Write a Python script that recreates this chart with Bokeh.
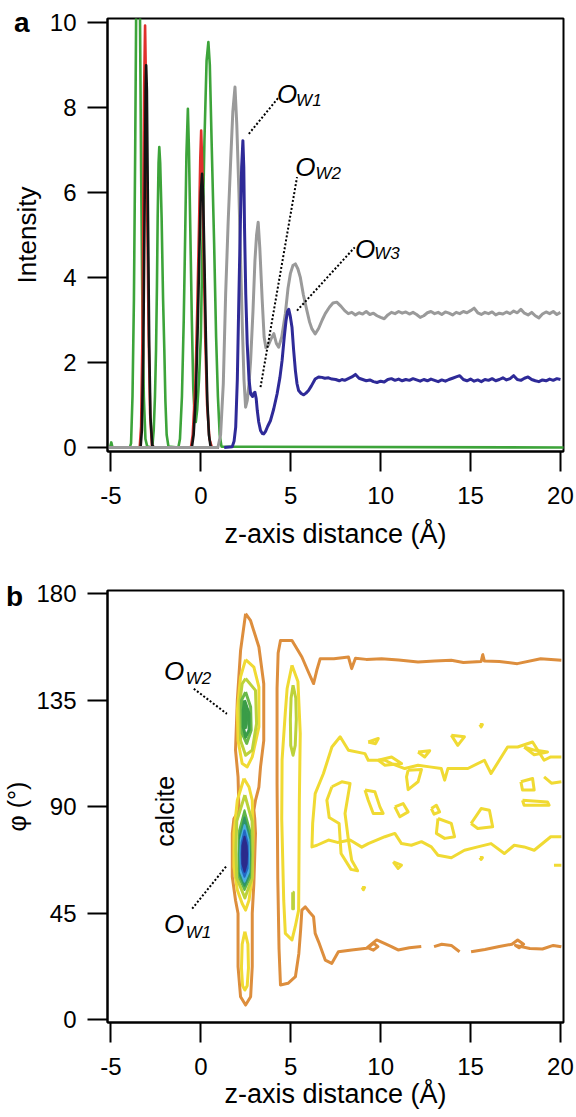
import numpy as np
from bokeh.plotting import figure
from bokeh.models import Range1d, FixedTicker, Div, GridBox
from bokeh.core.properties import value
from bokeh.embed import file_html
from bokeh.resources import INLINE

FONT = "Liberation Sans"

# ------------------------------------------------------------------ panel a data
x_ticks = [-5, 0, 5, 10, 15, 20]
ya_ticks = [0, 2, 4, 6, 8, 10]
yb_ticks = [0, 45, 90, 135, 180]

green_z = [-5.2, -5.05, -4.98, -4.91, -3.95, -3.88, -3.80, -3.72, -3.65, -3.60, -3.55, -3.49, -3.43,
           -3.38, -3.32, -3.25, -3.17, -3.08, -2.98, -2.70, -2.62, -2.55, -2.49, -2.44, -2.40, -2.35,
           -2.31, -2.26, -2.18, -2.10, -2.03, -1.97, -1.90, -1.80, -1.25, -1.16, -1.05, -0.95, -0.87,
           -0.80, -0.72, -0.66, -0.58, -0.50, -0.42, -0.34, -0.28, -0.20, -0.10, 0.0, 0.09, 0.20, 0.32,
           0.42, 0.50, 0.60, 0.74, 0.85, 0.95, 1.05, 1.15, 20.2]
green_I = [0, 0, 0.12, 0, 0, 0.1, 1.2, 3.5, 7.0, 10.0, 12.5, 13.5, 12.5,
           10.0, 6.5, 3.3, 1.2, 0.2, 0.02, 0, 0.4, 1.2, 2.3, 3.8, 5.4, 6.7,
           7.07, 6.7, 5.4, 3.5, 2.3, 1.1, 0.3, 0.02, 0, 0.2, 1.2, 3.0, 5.0,
           6.9, 7.97, 7.0, 5.0, 3.0, 1.4, 0.7, 0.6, 0.9, 1.6, 2.6, 4.8, 7.2, 9.1,
           9.54, 9.0, 7.2, 4.8, 2.6, 1.2, 0.3, 0.02, 0]

red_z = [-5.2, -3.40, -3.32, -3.25, -3.20, -3.15, -3.10, -3.05, -2.98, -2.90, -2.82, -2.72, -2.60,
         -0.55, -0.45, -0.30, -0.20, -0.10, -0.03, 0.02, 0.08, 0.15, 0.25, 0.35, 0.48, 0.62, 1.0]
red_I = [0, 0, 0.5, 2.5, 5.5, 8.5, 9.93, 8.5, 5.5, 2.6, 0.8, 0.05, 0,
         0, 0.3, 1.5, 3.2, 5.2, 6.8, 7.46, 6.6, 4.8, 2.5, 1.0, 0.2, 0, 0]

black_z = [-5.2, -3.35, -3.28, -3.20, -3.13, -3.07, -3.04, -3.00, -2.94, -2.87, -2.80, -2.70, -2.60,
           -0.50, -0.40, -0.28, -0.18, -0.08, 0.0, 0.07, 0.13, 0.20, 0.28, 0.36, 0.45, 0.55, 1.0]
black_I = [0, 0, 0.4, 2.2, 5.5, 8.4, 8.99, 8.4, 5.5, 2.4, 0.7, 0.05, 0,
           0, 0.3, 1.2, 2.7, 4.6, 6.0, 6.44, 5.9, 4.4, 2.6, 1.1, 0.3, 0, 0]

plateau_z = [8.0, 8.2, 8.4, 8.6, 8.8, 9.0, 9.2, 9.4, 9.6, 9.8,
             10.0, 10.2, 10.4, 10.6, 10.8, 11.0, 11.2, 11.4, 11.6, 11.8,
             12.0, 12.2, 12.4, 12.6, 12.8, 13.0, 13.2, 13.4, 13.6, 13.8,
             14.0, 14.2, 14.4, 14.6, 14.8, 15.0, 15.2, 15.4, 15.6, 15.8,
             16.0, 16.2, 16.4, 16.6, 16.8, 17.0, 17.2, 17.4, 17.6, 17.8,
             18.0, 18.2, 18.4, 18.6, 18.8, 19.0, 19.2, 19.4, 19.6, 19.8,
             20.0]

gray_z_near = [-5.2, 0.95, 1.10, 1.25, 1.38, 1.52, 1.66, 1.78, 1.90, 2.00, 2.12, 2.22, 2.31, 2.40,
               2.49, 2.58, 2.68, 2.77, 2.90, 3.01, 3.10, 3.19, 3.28, 3.41, 3.52, 3.62, 3.75, 3.90,
               4.06, 4.20, 4.33, 4.50, 4.70, 4.85, 4.98, 5.12, 5.26, 5.40, 5.53, 5.70, 5.90, 6.05,
               6.18, 6.36, 6.55, 6.75, 6.92, 7.15, 7.35, 7.56, 7.80]
gray_I_near = [0, 0, 0.3, 1.5, 3.6, 5.3, 6.75, 7.9, 8.48, 7.6, 5.97, 4.3, 2.83, 1.6,
               0.95, 1.1, 1.5, 2.05, 3.2, 4.4, 5.0, 5.3, 4.7, 3.5, 2.6, 2.35, 2.4, 2.55,
               2.68, 2.45, 2.36, 2.6, 3.15, 3.75, 4.09, 4.28, 4.32, 4.2, 4.01, 3.6, 3.22, 2.95,
               2.79, 2.67, 2.8, 3.0, 3.15, 3.3, 3.4, 3.42, 3.32]
gray_I_far = [3.22, 3.15, 3.18, 3.12, 3.17, 3.14, 3.20, 3.13, 3.16, 3.10,
              3.06, 3.03, 3.12, 3.18, 3.15, 3.20, 3.16, 3.19, 3.14, 3.18,
              3.13, 3.06, 3.10, 3.17, 3.20, 3.15, 3.18, 3.13, 3.19, 3.16,
              3.12, 3.18, 3.15, 3.20, 3.17, 3.22, 3.28, 3.17, 3.13, 3.18,
              3.15, 3.19, 3.12, 3.16, 3.14, 3.19, 3.15, 3.21, 3.17, 3.25,
              3.16, 3.12, 3.18, 3.10, 3.05, 3.14, 3.19, 3.15, 3.20, 3.13,
              3.18]

blue_z_near = [1.30, 1.75, 1.85, 1.94, 2.03, 2.12, 2.20, 2.27, 2.34, 2.39, 2.43, 2.50, 2.58, 2.68,
               2.77, 2.88, 2.95, 3.01, 3.08, 3.14, 3.22, 3.32, 3.42, 3.50, 3.60, 3.72, 3.87, 4.05,
               4.24, 4.40, 4.52, 4.64, 4.74, 4.82, 4.89, 4.97, 5.07, 5.16, 5.26, 5.35, 5.44, 5.58,
               5.72, 5.85, 5.99, 6.15, 6.36, 6.55, 6.73, 6.90, 7.10, 7.29, 7.50, 7.70, 7.85]
blue_I_near = [0, 0.02, 0.15, 0.48, 1.6, 3.62, 5.3, 6.6, 7.22, 6.6, 5.18, 3.6, 2.44, 1.6,
               1.26, 1.2, 1.28, 1.3, 1.15, 0.87, 0.6, 0.40, 0.33, 0.32, 0.38, 0.5, 0.63, 0.9,
               1.26, 1.65, 2.05, 2.6, 2.99, 3.2, 3.25, 3.1, 2.83, 2.3, 1.81, 1.5, 1.34, 1.27,
               1.24, 1.28, 1.34, 1.45, 1.61, 1.66, 1.65, 1.63, 1.64, 1.61, 1.6, 1.57, 1.6]
blue_I_far = [1.58, 1.62, 1.66, 1.72, 1.63, 1.60, 1.57, 1.59, 1.55, 1.53,
              1.56, 1.54, 1.60, 1.62, 1.58, 1.61, 1.57, 1.60, 1.58, 1.62,
              1.59, 1.56, 1.60, 1.57, 1.61, 1.58, 1.55, 1.59, 1.56, 1.60,
              1.63, 1.66, 1.69, 1.60, 1.57, 1.61, 1.56, 1.59, 1.55, 1.60,
              1.58, 1.62, 1.57, 1.60, 1.64, 1.59, 1.62, 1.69, 1.60, 1.58,
              1.63, 1.66, 1.60, 1.57, 1.55, 1.59, 1.57, 1.61, 1.58, 1.62,
              1.60]

# annotation labels of panel a (peak names)
a_label_names = ["W1", "W2", "W3"]
a_label_z = [4.24, 5.25, 8.58]
a_label_I = [8.32, 6.59, 4.675]
a_sub_z = [5.30, 6.38, 9.64]
a_sub_I = [8.16, 6.44, 4.56]
a_lead_z = [[2.67, 4.33], [3.32, 5.35], [5.35, 8.56]]
a_lead_I = [[7.38, 8.24], [1.42, 6.36], [3.22, 4.71]]

# ------------------------------------------------------------------ panel b data
orange_c1_z = [2.49, 2.76, 3.23, 3.50, 3.50, 3.32, 3.23, 3.04, 2.95, 3.00, 3.04, 2.95, 2.86, 2.86, 2.77,
               2.49, 2.21, 2.07, 2.07, 1.93, 1.75, 1.75, 1.84, 2.12, 2.07, 1.93, 2.03, 2.21, 2.49]
orange_c1_phi = [171.6, 168.8, 157.5, 142.0, 118.0, 106.9, 98.4, 92.8, 88.6, 85.0, 78.8, 57.7, 45.0, 22.5, 9.8,
                 6.3, 9.8, 22.5, 45.0, 50.6, 60.5, 78.8, 85.0, 88.6, 102.7, 114.0, 135.0, 156.0, 171.6]

orange_a_z = [20.05, 18.9, 17.6, 16.6, 15.77, 15.68, 15.59, 14.6, 13.93, 13.0, 12.08, 11.0, 10.05, 9.2,
              8.6, 8.39, 8.21, 7.4, 6.64, 6.45, 6.27, 5.95, 5.62, 5.07, 4.43, 4.30, 4.24, 4.24, 4.28,
              4.35, 4.43, 4.85, 5.26, 5.45, 5.55, 5.62, 5.81, 6.05, 6.27, 6.36, 6.55, 6.92, 7.28, 7.65,
              8.39, 9.22, 9.78, 10.3, 10.6, 10.97, 11.6, 12.26]
orange_a_phi = [151.9, 152.6, 150.5, 151.4, 151.6, 154.3, 151.4, 151.0, 151.9, 151.6, 151.2, 152.0, 152.6, 152.3,
                152.8, 148.4, 153.3, 152.6, 152.6, 147.7, 142.1, 147.5, 153.3, 160.3, 160.3, 155.0, 140.0, 100.0, 60.0,
                30.0, 14.8, 15.5, 18.3, 28.0, 38.0, 46.4, 47.8, 45.5, 43.6, 36.6, 33.0, 25.3, 23.9, 28.8,
                29.6, 30.3, 33.8, 32.0, 31.0, 29.6, 30.5, 31.0]
orange_b_z = [12.97, 13.4, 13.93, 14.39]
orange_b_phi = [31.0, 32.0, 31.5, 28.8]
orange_c_z = [15.03, 15.8, 16.6, 17.3, 17.62, 17.95, 17.7, 17.5, 18.3, 19.0, 19.6, 20.05]
orange_c_phi = [28.8, 29.8, 31.0, 32.0, 33.8, 32.0, 30.5, 31.5, 30.2, 30.0, 31.5, 30.9]
orange_d_z = [9.3, 9.6, 9.85, 9.6, 9.3]
orange_d_phi = [30.5, 32.5, 31.0, 29.5, 30.5]

yellow_c1u_z = [2.49, 2.95, 3.23, 3.23, 2.86, 2.58, 2.30, 2.07, 2.03, 2.21, 2.49]
yellow_c1u_phi = [152.2, 149.0, 140.6, 123.8, 111.1, 106.9, 108.3, 118.0, 130.8, 144.9, 152.2]
yellow_c1l_z = [2.40, 2.68, 2.86, 2.91, 2.86, 2.68, 2.49, 2.30, 2.03, 1.84, 1.84, 2.03, 2.40]
yellow_c1l_phi = [102.0, 98.4, 92.8, 78.9, 60.5, 50.6, 46.4, 49.2, 54.9, 64.7, 78.9, 92.8, 102.0]
yellow_c1b_z = [2.45, 2.62, 2.65, 2.58, 2.45, 2.32, 2.26, 2.30, 2.45]
yellow_c1b_phi = [37.3, 32.0, 22.0, 14.5, 12.7, 14.5, 22.0, 32.0, 37.3]
yellow_c2_z = [5.07, 5.40, 5.53, 5.48, 5.44, 5.25, 5.07, 4.70, 4.61, 4.50, 4.52, 4.70, 4.80, 5.07]
yellow_c2_phi = [149.8, 143.0, 121.0, 92.8, 46.4, 39.4, 33.8, 36.6, 50.6, 85.0, 110.0, 130.0, 140.0, 149.8]

yellow_r_z = [20.05, 19.46, 18.54, 17.98, 17.43, 16.88, 16.14, 15.40, 14.66, 13.93, 13.19, 12.82, 12.27,
              11.71, 11.16, 10.79, 10.24, 9.31, 8.95, 8.30, 7.60, 7.10, 6.46, 6.18,
              6.22, 6.36, 6.82, 7.29, 7.75, 8.21, 9.13, 9.31, 10.24, 10.61, 11.34, 12.08, 12.73, 13.37,
              13.56, 13.74, 14.11, 14.85, 15.77, 16.14, 16.60, 17.06, 17.62, 18.45, 19.09, 19.46, 20.05]
yellow_r_phi = [77.4, 77.4, 71.7, 73.1, 73.8, 70.3, 74.5, 73.1, 71.7, 68.5, 69.6, 73.1, 75.3,
                73.8, 74.5, 78.8, 77.4, 74.5, 73.0, 76.0, 75.0, 76.0, 73.8, 73.1,
                83.0, 95.6, 104.1, 115.3, 119.6, 113.9, 112.5, 109.7, 109.7, 108.3, 106.2, 107.6, 106.9, 106.2,
                101.3, 106.2, 106.2, 106.2, 109.7, 104.1, 109.7, 115.3, 115.3, 117.4, 109.7, 111.1, 111.1]

yellow_bits_z = [
    [7.29, 7.84, 8.30, 8.02, 8.21, 8.39, 8.72, 8.35, 7.80, 7.69, 7.14, 7.01, 7.29],
    [9.13, 9.68, 9.96, 10.14, 9.59, 9.31, 9.13],
    [10.79, 11.25, 11.53, 11.07, 10.79],
    [12.82, 13.10, 13.28, 12.97, 12.82],
    [13.19, 13.93, 14.11, 13.56, 13.10, 13.19],
    [15.03, 15.59, 16.05, 16.23, 15.40, 15.03],
    [17.80, 18.45, 18.54, 17.89, 17.80],
    [17.89, 19.28, 19.37, 17.98, 17.89],
    [11.53, 12.27, 12.08, 11.53, 11.44, 11.53],
    [9.87, 10.61, 11.16, 10.24, 9.87],
    [9.31, 9.87, 9.72, 9.31],
    [12.08, 12.73, 12.45, 12.08],
    [13.93, 14.66, 14.29, 13.93],
    [15.52, 15.66, 15.59, 15.52],
    [8.97, 9.11, 9.04, 8.97],
    [15.52, 15.66, 15.59, 15.52],
    [10.70, 11.16, 10.97, 10.70],
    [19.09, 19.5, 20.05],
    [19.64, 20.05],
    [17.98, 18.54, 19.28, 18.54, 17.98],
]
yellow_bits_phi = [
    [98.5, 100.6, 99.9, 87.2, 75.9, 67.5, 63.0, 63.6, 70.3, 83.0, 85.5, 92.8, 98.5],
    [97.1, 96.4, 90.0, 87.2, 87.2, 92.8, 97.1],
    [90.0, 91.4, 87.9, 85.8, 90.0],
    [89.3, 90.7, 87.9, 86.9, 89.3],
    [85.1, 83.0, 77.4, 76.7, 78.8, 85.1],
    [83.0, 89.3, 88.6, 81.6, 80.9, 83.0],
    [100.6, 102.0, 97.1, 97.1, 100.6],
    [92.8, 92.1, 90.7, 90.7, 92.8],
    [105.5, 105.8, 100.6, 97.3, 102.7, 105.5],
    [109.7, 111.1, 108.3, 107.6, 109.7],
    [117.4, 118.9, 116.7, 117.4],
    [113.2, 113.7, 111.1, 113.2],
    [120.3, 119.6, 116.0, 120.3],
    [124.8, 124.8, 123.8, 124.8],
    [56.0, 56.0, 55.0, 56.0],
    [68.6, 68.6, 67.8, 68.6],
    [66.8, 65.4, 64.0, 66.8],
    [102.7, 100.0, 100.6],
    [65.4, 65.4],
    [115.3, 114.0, 113.2, 112.0, 115.3],
]

yg_c1u_z = [2.49, 3.04, 3.10, 2.86, 2.49, 2.21, 2.18, 2.30, 2.49]
yg_c1u_phi = [144.2, 139.2, 125.2, 114.0, 111.8, 118.0, 135.0, 142.0, 144.2]
yg_c1l_z = [2.45, 2.85, 2.88, 2.85, 2.45, 2.00, 1.95, 2.00, 2.45]
yg_c1l_phi = [95.0, 84.0, 72.0, 60.0, 51.5, 60.0, 72.0, 84.0, 95.0]
yg_c2_z = [5.13, 5.28, 5.31, 5.25, 5.13, 5.00, 4.98, 5.02, 5.13]
yg_c2_phi = [141.4, 136.0, 127.0, 116.0, 111.8, 116.0, 127.0, 136.0, 141.4]
yg_c2s_z = [5.11, 5.15, 5.15, 5.11, 5.11]
yg_c2s_phi = [54.0, 54.0, 47.0, 47.0, 54.0]

green_c1u_z = [2.49, 2.77, 2.80, 2.55, 2.30, 2.26, 2.49]
green_c1u_phi = [138.5, 132.2, 122.4, 116.8, 121.0, 135.0, 138.5]
dgreen_c1u_z = [2.43, 2.68, 2.68, 2.49, 2.36, 2.36, 2.43]
dgreen_c1u_phi = [135.0, 129.4, 122.4, 119.5, 123.8, 130.8, 135.0]
core_c1u_z = [2.49, 2.58, 2.56, 2.49, 2.43, 2.43, 2.49]
core_c1u_phi = [133.0, 129.0, 125.0, 123.0, 125.0, 130.0, 133.0]

# filled core of the O_W1 maximum, outer to inner level
core_levels_z = [
    [2.43, 2.74, 2.77, 2.74, 2.43, 2.13, 2.10, 2.13, 2.43],
    [2.43, 2.69, 2.72, 2.69, 2.43, 2.18, 2.15, 2.18, 2.43],
    [2.43, 2.66, 2.68, 2.66, 2.43, 2.22, 2.20, 2.22, 2.43],
    [2.43, 2.60, 2.62, 2.60, 2.43, 2.27, 2.25, 2.27, 2.43],
    [2.43, 2.55, 2.57, 2.55, 2.43, 2.31, 2.30, 2.31, 2.43],
]
core_levels_phi = [
    [88.6, 80.0, 70.0, 60.0, 54.9, 60.0, 70.0, 80.0, 88.6],
    [85.5, 78.0, 70.0, 61.0, 56.7, 61.0, 70.0, 78.0, 85.5],
    [82.3, 76.0, 70.0, 62.5, 58.4, 62.5, 70.0, 76.0, 82.3],
    [80.0, 75.0, 70.0, 64.0, 60.5, 64.0, 70.0, 75.0, 80.0],
    [77.4, 73.5, 70.0, 66.0, 62.6, 66.0, 70.0, 73.5, 77.4],
]
core_colors = ["#5fb548", "#2f9568", "#4aaee0", "#2268c4", "#2b2b8c"]

b_label_names = ["W2", "W1"]
b_label_z = [-2.05, -2.05]
b_label_phi = [147.6, 40.6]
b_sub_z = [-0.84, -0.84]
b_sub_phi = [144.1, 37.1]
b_lead_z = [[-0.39, 1.45], [-0.48, 1.45]]
b_lead_phi = [[139.9, 129.3], [47.0, 65.25]]

# ------------------------------------------------------------------ colours
C_GREEN = "#3da43a"
C_RED = "#e0302c"
C_BLACK = "#141414"
C_GRAY = "#9a9a9a"
C_BLUE = "#2e2a98"
C_ORANGE = "#dd8e3d"
C_YELLOW = "#f0da33"
C_YG = "#bcd23a"
C_LGREEN = "#69b94a"
C_DGREEN = "#3a9c48"


def style(p, yticks):
    p.outline_line_color = "black"
    p.outline_line_width = 2
    p.outline_line_alpha = 1
    p.xgrid.visible = False
    p.ygrid.visible = False
    p.background_fill_color = "white"
    p.border_fill_color = "white"
    p.xaxis.ticker = FixedTicker(ticks=x_ticks)
    p.yaxis.ticker = FixedTicker(ticks=yticks)
    p.xaxis.major_label_overrides = {-5: "-5"}
    for ax in (p.xaxis[0], p.yaxis[0]):
        ax.axis_line_width = 2
        ax.axis_line_color = "black"
        ax.major_tick_line_width = 2
        ax.major_tick_line_color = "black"
        ax.major_tick_in = 0
        ax.major_tick_out = 20
        ax.minor_tick_line_color = None
        ax.major_label_text_font = FONT
        ax.major_label_text_font_size = "24px"
        ax.major_label_text_color = "black"
        ax.axis_label_text_font = FONT
        ax.axis_label_text_font_size = "26px"
        ax.axis_label_text_font_style = "normal"
        ax.axis_label_text_color = "black"


# ------------------------------------------------------------------ panel a
pa = figure(width=576, height=558, title=None, output_backend="svg", toolbar_location=None,
            x_range=Range1d(-5.19, 20.17), y_range=Range1d(-0.094, 10.094),
            min_border_left=105, min_border_right=13, min_border_top=18, min_border_bottom=107)
style(pa, ya_ticks)
pa.xaxis.axis_label = "z-axis distance (Å)"
pa.yaxis.axis_label = "Intensity"
pa.xaxis.axis_label_text_font_size = "27px"
pa.xaxis.major_label_standoff = 15
pa.xaxis.axis_label_standoff = 12
pa.yaxis.major_label_standoff = 11
pa.yaxis.axis_label_standoff = 5

pa.line(green_z, green_I, line_color=C_GREEN, line_width=2.6, line_join="round")
pa.line(red_z, red_I, line_color=C_RED, line_width=2.6, line_join="round")
pa.line(black_z, black_I, line_color=C_BLACK, line_width=2.6, line_join="round")
pa.line(gray_z_near + plateau_z, gray_I_near + gray_I_far, line_color=C_GRAY, line_width=3, line_join="round")
pa.line(blue_z_near + plateau_z, blue_I_near + blue_I_far, line_color=C_BLUE, line_width=3, line_join="round")

for lz, lI in zip(a_lead_z, a_lead_I):
    pa.line(lz, lI, line_color="black", line_width=2, line_dash="2 2")
pa.text(x=a_label_z, y=a_label_I, text=["O"] * 3, text_font=value(FONT), text_font_size="26px",
        text_font_style="italic", text_align="left", text_baseline="alphabetic", text_color="black")
pa.text(x=a_sub_z, y=a_sub_I, text=a_label_names, text_font=value(FONT), text_font_size="17px",
        text_font_style="italic", text_align="left", text_baseline="alphabetic", text_color="black")

# ------------------------------------------------------------------ panel b
pb = figure(width=576, height=558, title=None, output_backend="svg", toolbar_location=None,
            x_range=Range1d(-5.19, 20.17), y_range=Range1d(-1.06, 181.39),
            min_border_left=105, min_border_right=13, min_border_top=32, min_border_bottom=94)
style(pb, yb_ticks)
pb.xaxis.axis_label = "z-axis distance (Å)"
pb.yaxis.axis_label = "φ (°)"
pb.xaxis.axis_label_text_font_size = "27px"
pb.yaxis.axis_label_text_font_size = "25px"
pb.xaxis.major_label_standoff = 15
pb.xaxis.axis_label_standoff = 1
pb.yaxis.major_label_standoff = 11
pb.yaxis.axis_label_standoff = 2

LW = 3
pb.line(orange_c1_z, orange_c1_phi, line_color=C_ORANGE, line_width=LW, line_join="round")
for oz, op in ((orange_a_z, orange_a_phi), (orange_b_z, orange_b_phi),
               (orange_c_z, orange_c_phi), (orange_d_z, orange_d_phi)):
    pb.line(oz, op, line_color=C_ORANGE, line_width=LW, line_join="round")
for yz, yp in ((yellow_c1u_z, yellow_c1u_phi), (yellow_c1l_z, yellow_c1l_phi),
               (yellow_c1b_z, yellow_c1b_phi), (yellow_c2_z, yellow_c2_phi),
               (yellow_r_z, yellow_r_phi)):
    pb.line(yz, yp, line_color=C_YELLOW, line_width=LW, line_join="round")
pb.multi_line(yellow_bits_z, yellow_bits_phi, line_color=C_YELLOW, line_width=LW, line_join="round")
for gz, gp in ((yg_c1u_z, yg_c1u_phi), (yg_c1l_z, yg_c1l_phi), (yg_c2_z, yg_c2_phi), (yg_c2s_z, yg_c2s_phi)):
    pb.line(gz, gp, line_color=C_YG, line_width=LW, line_join="round")
pb.line(green_c1u_z, green_c1u_phi, line_color=C_LGREEN, line_width=LW, line_join="round")
pb.line(dgreen_c1u_z, dgreen_c1u_phi, line_color=C_DGREEN, line_width=LW, line_join="round")
pb.patch(core_c1u_z, core_c1u_phi, fill_color=C_DGREEN, line_color=C_DGREEN, line_width=2)
for cz, cp, cc in zip(core_levels_z, core_levels_phi, core_colors):
    pb.patch(cz, cp, fill_color=cc, line_color=cc, line_width=2, line_join="round")

for lz, lp in zip(b_lead_z, b_lead_phi):
    pb.line(lz, lp, line_color="black", line_width=2, line_dash="2 2")
pb.text(x=b_label_z, y=b_label_phi, text=["O"] * 2, text_font=value(FONT), text_font_size="26px",
        text_font_style="italic", text_align="left", text_baseline="alphabetic", text_color="black")
pb.text(x=b_sub_z, y=b_sub_phi, text=b_label_names, text_font=value(FONT), text_font_size="17px",
        text_font_style="italic", text_align="left", text_baseline="alphabetic", text_color="black")
pb.text(x=[-1.995], y=[88.1], text=["calcite"], angle=np.pi / 2, text_font=value(FONT),
        text_font_size="25px", text_align="center", text_baseline="middle", text_color="black")

# panel letters, overlaid on the top-left corner of each panel
letter_css = "font-family:'Liberation Sans';font-weight:bold;font-size:28px;line-height:28px;"
div_a = Div(text=f'<div style="{letter_css}padding:9px 0 0 14px;">a</div>',
            width=50, height=45, margin=(0, 0, 0, 0), styles={"z-index": "10"})
div_b = Div(text=f'<div style="{letter_css}padding:25px 0 0 6px;">b</div>',
            width=50, height=60, margin=(0, 0, 0, 0), styles={"z-index": "10"})

layout = GridBox(children=[(pa, 0, 0), (pb, 1, 0), (div_a, 0, 0), (div_b, 1, 0)])
open("out.html", "w").write(file_html(layout, INLINE))
